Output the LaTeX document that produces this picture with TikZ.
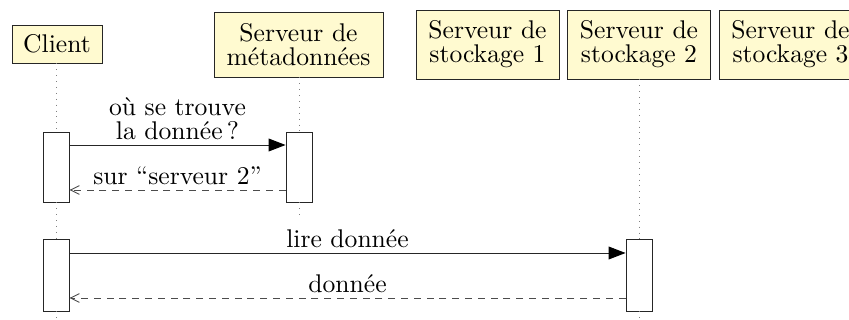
\documentclass[tikz,border=0pt]{standalone}
\usetikzlibrary{arrows.meta}
\definecolor{boxfill}{RGB}{255,250,208}
\begin{document}
\begin{tikzpicture}[x=0.390625pt,y=-0.390625pt,
  font=\fontsize{10pt}{9.4pt}\selectfont,
  line width=0.35pt,
  thread/.style={draw=black!85,fill=boxfill,align=center,inner sep=0pt},
  act/.style={draw=black!85,fill=white,minimum width=10.16pt,inner sep=0pt},
  life/.style={dotted,gray,line width=0.3pt},
  call/.style={draw=black!85,-{Triangle[length=6.6pt,width=5pt,color=black]}},
  reply/.style={draw=black!70,dash pattern=on 2.7pt off 2.3pt,-{Straight Barb[length=3.5pt,width=3.4pt]}},
  msg/.style={above,inner sep=2pt,align=center}]
\useasboundingbox (0,0) rectangle (849,320);
\clip (0,0) rectangle (849,320);
% threads
\node[thread,minimum width=35.16pt,minimum height=14.84pt] (client) at (57,44) {Client};
\node[thread,minimum width=66pt,minimum height=25.4pt] (meta) at (298.5,44.5) {Serveur de\\métadonnées};
\node[thread,minimum width=55.86pt,minimum height=26.95pt] (s1) at (487.5,44.5) {Serveur de\\stockage 1};
\node[thread,minimum width=55.86pt,minimum height=26.95pt] (s2) at (639,44.5) {Serveur de\\stockage 2};
\node[thread,minimum width=55.86pt,minimum height=26.95pt] (s3) at (790.5,44.5) {Serveur de\\stockage 3};
% activation boxes
\node[act,minimum height=27.34pt] (ca1) at (56,167) {};
\node[act,minimum height=27.34pt] (ma1) at (299,167) {};
\node[act,minimum height=28.13pt] (ca2) at (56,275) {};
\node[act,minimum height=28.13pt] (sa2) at (639,275) {};
\coordinate (cend) at (56,320);
\coordinate (mend) at (299,218);
\coordinate (send) at (639,320);
% lifelines
\draw[life] (client.south -| ca1.north) -- (ca1.north);
\draw[life] (ca1.south) -- (ca2.north);
\draw[life] (ca2.south) -- (cend);
\draw[life] (meta.south -| ma1.north) -- (ma1.north);
\draw[life] (ma1.south) -- (mend);
\draw[life] (s2.south) -- (sa2.north);
\draw[life] (sa2.south) -- (send);
% messages
\coordinate (y1) at (0,145);
\coordinate (y2) at (0,190);
\coordinate (y3) at (0,253);
\coordinate (y4) at (0,298);
\draw[call] (ca1.east |- y1) -- node[msg] {où se trouve\\la donnée\,?} (ma1.west |- y1);
\draw[reply] (ma1.west |- y2) -- node[msg] {sur “serveur 2”} (ca1.east |- y2);
\draw[call] (ca2.east |- y3) -- node[msg] {lire donnée} (sa2.west |- y3);
\draw[reply] (sa2.west |- y4) -- node[msg] {donnée} (ca2.east |- y4);
\end{tikzpicture}
\end{document}
